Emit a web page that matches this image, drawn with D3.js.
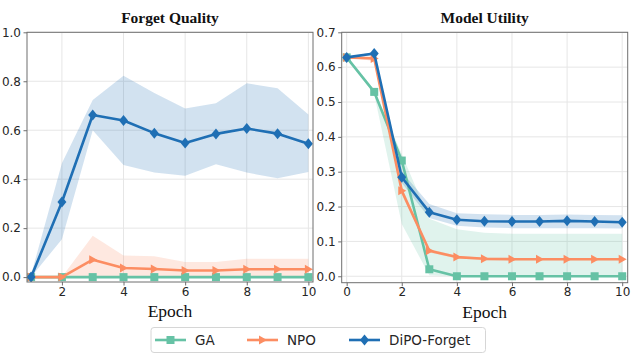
<!DOCTYPE html>
<html><head><meta charset="utf-8">
<script src="https://cdn.jsdelivr.net/npm/d3@7/dist/d3.min.js"></script>
<style>body{margin:0;background:#fff;} svg{display:block;}</style>
</head><body>
<svg id="c" width="635" height="358"></svg>
<script>
// ---- data ----
const seriesNames = ["GA", "NPO", "DiPO-Forget"];
const colors = ["#66c2a5", "#fc8d62", "#1f6fb4"];
const fqEpochs = [1,2,3,4,5,6,7,8,9,10];
const fqGA     = [0,0,0,0,0,0,0,0,0,0];
const fqGAlo   = [0,0,0,0,0,0,0,0,0,0];
const fqGAhi   = [0,0,0,0,0,0,0,0,0,0];
const fqNPO    = [0,0,0.071,0.037,0.033,0.027,0.027,0.032,0.032,0.032];
const fqNPOlo  = [0,0,0,0,0,0,0,0,0,0];
const fqNPOhi  = [0,0,0.169,0.088,0.085,0.062,0.062,0.075,0.075,0.075];
const fqDiPO   = [0,0.307,0.662,0.640,0.588,0.548,0.585,0.607,0.586,0.545];
const fqDiPOlo = [0,0.155,0.600,0.458,0.427,0.414,0.461,0.427,0.404,0.429];
const fqDiPOhi = [0.01,0.465,0.723,0.823,0.752,0.689,0.710,0.792,0.771,0.664];

const muEpochs = [0,1,2,3,4,5,6,7,8,9,10];
const muGA     = [0.628,0.529,0.332,0.020,0,0,0,0,0,0,0];
const muGAlo   = [0.628,0.522,0.150,0.003,0,0,0,0,0,0,0];
const muGAhi   = [0.628,0.536,0.350,0.165,0.135,0.125,0.122,0.122,0.122,0.122,0.122];
const muNPO    = [0.628,0.625,0.245,0.073,0.055,0.050,0.049,0.049,0.049,0.049,0.049];
const muNPOlo  = [0.628,0.618,0.235,0.068,0.051,0.047,0.046,0.046,0.046,0.046,0.046];
const muNPOhi  = [0.628,0.632,0.255,0.078,0.059,0.053,0.052,0.052,0.052,0.052,0.052];
const muDiPO   = [0.628,0.639,0.284,0.184,0.162,0.158,0.157,0.157,0.159,0.157,0.155];
const muDiPOlo = [0.628,0.634,0.268,0.167,0.145,0.140,0.138,0.138,0.138,0.138,0.137];
const muDiPOhi = [0.628,0.644,0.300,0.207,0.181,0.178,0.176,0.176,0.177,0.176,0.175];

const fqXTicks = [2,4,6,8,10];
const fqYTicks = [0,0.2,0.4,0.6,0.8,1.0];
const muXTicks = [0,2,4,6,8,10];
const muYTicks = [0,0.1,0.2,0.3,0.4,0.5,0.6,0.7];

const svg = d3.select("#c");

function panel(opts) {
  const {x0,x1,y0,y1,xdom,ydom,xticks,yticks,title,epochs,series,gridX} = opts;
  const x = d3.scaleLinear().domain(xdom).range([x0,x1]);
  const y = d3.scaleLinear().domain(ydom).range([y1,y0]);
  const g = svg.append("g");
  // grid
  g.selectAll(".gx").data(gridX).enter().append("line")
    .attr("x1",d=>x(d)).attr("x2",d=>x(d)).attr("y1",y0).attr("y2",y1)
    .attr("stroke","#e6e6e6").attr("stroke-width",1);
  g.selectAll(".gy").data(yticks).enter().append("line")
    .attr("x1",x0).attr("x2",x1).attr("y1",d=>y(d)).attr("y2",d=>y(d))
    .attr("stroke","#e6e6e6").attr("stroke-width",1);
  const clipId = "clip"+Math.round(x0);
  g.append("clipPath").attr("id",clipId).append("rect")
    .attr("x",x0).attr("y",y0).attr("width",x1-x0).attr("height",y1-y0);
  const inner = g.append("g").attr("clip-path",`url(#${clipId})`);
  // bands
  series.forEach((s,i)=>{
    const area = d3.area().x((d,j)=>x(epochs[j])).y0((d,j)=>y(s.lo[j])).y1((d,j)=>y(s.hi[j]));
    inner.append("path").datum(s.v).attr("d",area).attr("fill",colors[i]).attr("fill-opacity",0.2).attr("stroke","none");
  });
  // lines & markers
  series.forEach((s,i)=>{
    const line = d3.line().x((d,j)=>x(epochs[j])).y(d=>y(d));
    inner.append("path").datum(s.v).attr("d",line).attr("fill","none")
      .attr("stroke",colors[i]).attr("stroke-width",2.6).attr("stroke-linejoin","round");
    const pts = s.v.map((v,j)=>[x(epochs[j]),y(v)]);
    drawMarkers(inner, pts, i);
  });
  // frame
  g.append("rect").attr("x",x0).attr("y",y0).attr("width",x1-x0).attr("height",y1-y0)
    .attr("fill","none").attr("stroke","#6e6e6e").attr("stroke-width",1);
  // axes
  const xa = g.append("g").attr("transform",`translate(0,${y1})`)
    .call(d3.axisBottom(x).tickValues(xticks).tickSize(3.5).tickSizeOuter(0).tickPadding(1.5).tickFormat(d3.format("d")));
  const ya = g.append("g").attr("transform",`translate(${x0},0)`)
    .call(d3.axisLeft(y).tickValues(yticks).tickSize(3.5).tickSizeOuter(0).tickPadding(2.5).tickFormat(d3.format(".1f")));
  [xa,ya].forEach(a=>{
    a.select(".domain").remove();
    a.selectAll("line").attr("stroke","#6e6e6e");
    a.selectAll("text").attr("fill","#262626").style("font-family","DejaVu Sans").style("font-size","12px");
  });
  g.append("text").attr("x",(x0+x1)/2).attr("y",y0-9).attr("text-anchor","middle")
    .style("font-family","Liberation Serif").style("font-weight","bold").style("font-size","15.5px")
    .attr("fill","#111").text(title);
  g.append("text").attr("x",(x0+x1)/2).attr("y",y1+35).attr("text-anchor","middle")
    .style("font-family","Liberation Serif").style("font-size","17.5px").attr("fill","#111").text("Epoch");
}

function drawMarkers(sel, pts, i) {
  const c = colors[i];
  pts.forEach(([px,py])=>{
    if (i===0) {
      sel.append("rect").attr("x",px-4).attr("y",py-4).attr("width",8).attr("height",8).attr("fill",c);
    } else if (i===1) {
      sel.append("path").attr("d",`M${px+4.5},${py} L${px-3.5},${py-4.5} L${px-3.5},${py+4.5} Z`).attr("fill",c);
    } else {
      sel.append("path").attr("d",`M${px},${py-5.5} L${px+4.5},${py} L${px},${py+5.5} L${px-4.5},${py} Z`).attr("fill",c);
    }
  });
}

panel({x0:27,x1:313,y0:32.3,y1:282,xdom:[0.867,10.15],ydom:[-0.02,1.0],
  xticks:fqXTicks,yticks:fqYTicks,gridX:fqXTicks,title:"Forget Quality",epochs:fqEpochs,
  series:[{v:fqGA,lo:fqGAlo,hi:fqGAhi},{v:fqNPO,lo:fqNPOlo,hi:fqNPOhi},{v:fqDiPO,lo:fqDiPOlo,hi:fqDiPOhi}]});
panel({x0:341.7,x1:627.7,y0:32.3,y1:282.7,xdom:[-0.18,10.2],ydom:[-0.0185,0.7],
  xticks:muXTicks,yticks:muYTicks,gridX:muXTicks,title:"Model Utility",epochs:muEpochs,
  series:[{v:muGA,lo:muGAlo,hi:muGAhi},{v:muNPO,lo:muNPOlo,hi:muNPOhi},{v:muDiPO,lo:muDiPOlo,hi:muDiPOhi}]});

// legend
const lg = svg.append("g");
lg.append("rect").attr("x",151).attr("y",327.5).attr("width",334.5).attr("height",25).attr("rx",3)
  .attr("fill","#fff").attr("stroke","#d6d6d6").attr("stroke-width",1);
const lx = [155, 247, 349];
seriesNames.forEach((n,i)=>{
  const yy = 340;
  lg.append("line").attr("x1",lx[i]).attr("x2",lx[i]+31).attr("y1",yy).attr("y2",yy)
    .attr("stroke",colors[i]).attr("stroke-width",2.6);
  drawMarkers(lg, [[lx[i]+15.5,yy]], i);
  lg.append("text").attr("x",lx[i]+40).attr("y",yy+5).style("font-family","DejaVu Sans").style("font-size","13.5px")
    .attr("fill","#262626").text(n);
});
</script>
</body></html>
